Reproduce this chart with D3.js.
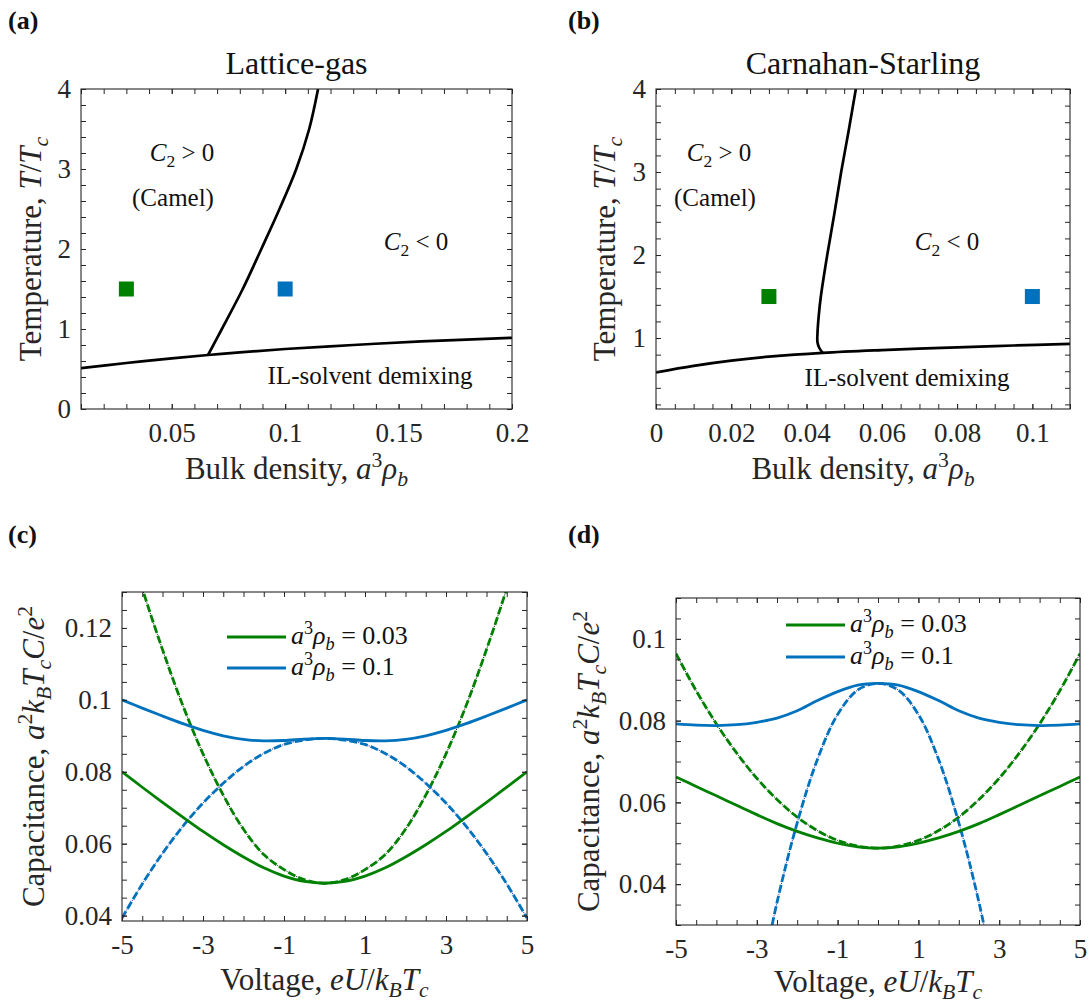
<!DOCTYPE html>
<html>
<head>
<meta charset="utf-8">
<script src="https://cdn.jsdelivr.net/npm/d3@7"></script>
<style>
  html, body { margin: 0; padding: 0; background: #fff; }
  svg { display: block; }
</style>
</head>
<body>
<script>
// ---------------- data ----------------
const panelTags = ["(a)", "(b)", "(c)", "(d)"];
const phaseTitles = ["Lattice-gas", "Carnahan-Starling"];

// state points marked on the phase diagrams
const markerRho = [0.03, 0.1];
const markerT = [1.5, 1.5];
const seriesColors = ["#008000", "#0072BD"];

// lattice-gas: IL-solvent demixing line and C2 = 0 line
const lgDemixRho = [0.01, 0.03, 0.05, 0.066, 0.08, 0.1, 0.13, 0.16, 0.2];
const lgDemixT   = [0.51, 0.575, 0.632, 0.675, 0.708, 0.75, 0.80, 0.845, 0.89];
const lgC2Rho = [0.066, 0.0721, 0.0813, 0.0895, 0.0975, 0.1049, 0.1106, 0.1145];
const lgC2T   = [0.675, 1.0, 1.5, 2.0, 2.5, 3.0, 3.5, 4.0];

// Carnahan-Starling: demixing line and C2 = 0 line
const csDemixRho = [0, 0.01, 0.02, 0.03, 0.0443, 0.06, 0.08, 0.095, 0.11];
const csDemixT   = [0.586, 0.665, 0.728, 0.775, 0.822, 0.855, 0.888, 0.91, 0.93];
const csC2Rho = [0.0443, 0.0434, 0.0429, 0.0429, 0.0432, 0.0438, 0.0455, 0.0474, 0.0492, 0.0512, 0.0531];
const csC2T   = [0.822, 0.88, 0.95, 1.05, 1.25, 1.5, 2.0, 2.5, 3.0, 3.5, 4.0];

// voltage grid for the capacitance curves
const voltage = [-5, -4.5, -4, -3.5, -3, -2.5, -2, -1.5, -1, -0.5, 0, 0.5, 1, 1.5, 2, 2.5, 3, 3.5, 4, 4.5, 5];

// lattice-gas capacitance (full and small-voltage expansion)
const lgCapLow   = [0.0800, 0.0757, 0.0715, 0.0674, 0.0634, 0.0597, 0.0563, 0.0533, 0.0510, 0.0495, 0.0490, 0.0495, 0.0510, 0.0533, 0.0563, 0.0597, 0.0634, 0.0674, 0.0715, 0.0757, 0.0800];
const lgCapHigh  = [0.1000, 0.0977, 0.0955, 0.0934, 0.0915, 0.0900, 0.0890, 0.0886, 0.0887, 0.0891, 0.0893, 0.0891, 0.0887, 0.0886, 0.0890, 0.0900, 0.0915, 0.0934, 0.0955, 0.0977, 0.1000];
const lgApproxLow  = [0.150, 0.131, 0.114, 0.0985, 0.085, 0.0735, 0.064, 0.057, 0.0528, 0.0500, 0.0490, 0.0500, 0.0528, 0.057, 0.064, 0.0735, 0.085, 0.0985, 0.114, 0.131, 0.150];
const lgApproxHigh = [0.0393, 0.0488, 0.0573, 0.0648, 0.0713, 0.0768, 0.0815, 0.0851, 0.0876, 0.0888, 0.0893, 0.0888, 0.0876, 0.0851, 0.0815, 0.0768, 0.0713, 0.0648, 0.0573, 0.0488, 0.0393];

// Carnahan-Starling capacitance
const csCapLow   = [0.0662, 0.0639, 0.0616, 0.0593, 0.0570, 0.0548, 0.0529, 0.0513, 0.0500, 0.0491, 0.0488, 0.0491, 0.0500, 0.0513, 0.0529, 0.0548, 0.0570, 0.0593, 0.0616, 0.0639, 0.0662];
const csCapHigh  = [0.0792, 0.0789, 0.0788, 0.0790, 0.0796, 0.0806, 0.0824, 0.0849, 0.0871, 0.0887, 0.0891, 0.0887, 0.0871, 0.0849, 0.0824, 0.0806, 0.0796, 0.0790, 0.0788, 0.0789, 0.0792];
const csApproxLow  = [0.0964, 0.0873, 0.0792, 0.0721, 0.0659, 0.0607, 0.0564, 0.0531, 0.0507, 0.0493, 0.0488, 0.0493, 0.0507, 0.0531, 0.0564, 0.0607, 0.0659, 0.0721, 0.0792, 0.0873, 0.0964];
const csApproxHigh = [null, null, null, null, 0.0115, 0.0355, 0.0550, 0.0705, 0.0815, 0.0875, 0.0891, 0.0875, 0.0815, 0.0705, 0.0550, 0.0355, 0.0115, null, null, null, null];

const legendLabels = ["0.03", "0.1"];

// tick values and labels
const lgXTicks = [0.05, 0.1, 0.15, 0.2];
const lgXLabels = ["0.05", "0.1", "0.15", "0.2"];
const csXTicks = [0, 0.02, 0.04, 0.06, 0.08, 0.1];
const csXLabels = ["0", "0.02", "0.04", "0.06", "0.08", "0.1"];
const tTicksA = [0, 1, 2, 3, 4];
const tTicksB = [1, 2, 3, 4];
const vTicks = [-5, -3, -1, 1, 3, 5];
const vLabels = ["-5", "-3", "-1", "1", "3", "5"];
const capTicksC = [0.04, 0.06, 0.08, 0.1, 0.12];
const capLabelsC = ["0.04", "0.06", "0.08", "0.1", "0.12"];
const capTicksD = [0.04, 0.06, 0.08, 0.1];
const capLabelsD = ["0.04", "0.06", "0.08", "0.1"];

// ---------------- drawing ----------------
const W = 1091, H = 1007;
const SERIF = "'Liberation Serif', 'Times New Roman', serif";
const AXIS_COLOR = "#262626";
const TICK_FS = 27, LABEL_FS = 31, NOTE_FS = 25, LEGEND_FS = 26;

const svg = d3.select("body").append("svg")
  .attr("width", W).attr("height", H)
  .attr("viewBox", `0 0 ${W} ${H}`)
  .style("font-family", SERIF);

const range = (a, b, s) => d3.range(Math.round((b - a) / s) + 1).map(i => +(a + i * s).toFixed(6));

// text with italic / subscript / superscript runs
function rich(text, parts, size) {
  let shift = 0;
  parts.forEach(p => {
    const ts = text.append("tspan").text(p.t);
    const target = p.sub ? size * 0.22 : p.sup ? -size * 0.4 : 0;
    if (target !== shift) { ts.attr("dy", target - shift); shift = target; }
    if (p.sub || p.sup) ts.attr("font-size", size * 0.7);
    if (p.i) ts.attr("font-style", "italic");
  });
  return text;
}

let clipId = 0;
function makePanel(cfg) {
  const x = d3.scaleLinear().domain(cfg.xDomain).range([cfg.x0, cfg.x1]);
  const y = d3.scaleLinear().domain(cfg.yDomain).range([cfg.y1, cfg.y0]);
  const g = svg.append("g");

  const id = "clip" + (clipId++);
  svg.append("clipPath").attr("id", id)
    .append("rect").attr("x", cfg.x0).attr("y", cfg.y0)
    .attr("width", cfg.x1 - cfg.x0).attr("height", cfg.y1 - cfg.y0);
  const plot = g.append("g").attr("clip-path", `url(#${id})`);

  const style = sel => {
    sel.select(".domain").remove();
    sel.selectAll("line").attr("stroke", AXIS_COLOR).attr("stroke-width", 1);
    sel.attr("font-family", SERIF).attr("font-size", TICK_FS);
    sel.selectAll("text").attr("fill", AXIS_COLOR);
  };
  const T = 5;
  // labelled major ticks
  g.append("g").attr("transform", `translate(0,${cfg.y1})`)
    .call(d3.axisBottom(x).tickValues(cfg.xTicks).tickFormat((d, i) => cfg.xLabels[i])
      .tickSizeInner(-T).tickSizeOuter(0).tickPadding(14)).call(style);
  g.append("g").attr("transform", `translate(${cfg.x0},0)`)
    .call(d3.axisLeft(y).tickValues(cfg.yTicks).tickFormat((d, i) => cfg.yLabels[i])
      .tickSizeInner(-T).tickSizeOuter(0).tickPadding(10)).call(style);
  // minor ticks on all four sides, majors on top / right
  const blank = () => "";
  [[d3.axisBottom, cfg.y1, cfg.xMinor], [d3.axisTop, cfg.y0, cfg.xMinor.concat(cfg.xTicks)]].forEach(([ax, pos, vals]) => {
    g.append("g").attr("transform", `translate(0,${pos})`)
      .call(ax(x).tickValues(vals).tickFormat(blank).tickSizeInner(-T).tickSizeOuter(0)).call(style);
  });
  [[d3.axisLeft, cfg.x0, cfg.yMinor], [d3.axisRight, cfg.x1, cfg.yMinor.concat(cfg.yTicks)]].forEach(([ax, pos, vals]) => {
    g.append("g").attr("transform", `translate(${pos},0)`)
      .call(ax(y).tickValues(vals).tickFormat(blank).tickSizeInner(-T).tickSizeOuter(0)).call(style);
  });
  g.append("rect").attr("x", cfg.x0).attr("y", cfg.y0)
    .attr("width", cfg.x1 - cfg.x0).attr("height", cfg.y1 - cfg.y0)
    .attr("fill", "none").attr("stroke", AXIS_COLOR).attr("stroke-width", 1.1);

  // axis titles
  rich(g.append("text").attr("x", (cfg.x0 + cfg.x1) / 2).attr("y", cfg.y1 + cfg.xTitleGap)
    .attr("text-anchor", "middle").attr("font-size", LABEL_FS).attr("fill", AXIS_COLOR), cfg.xTitle, LABEL_FS);
  rich(g.append("text").attr("transform", `translate(${cfg.yTitleX},${(cfg.y0 + cfg.y1) / 2}) rotate(-90)`)
    .attr("text-anchor", "middle").attr("font-size", LABEL_FS).attr("fill", AXIS_COLOR), cfg.yTitle, LABEL_FS);

  return { x, y, g, plot };
}

const tagX = [8, 568, 8, 568], tagY = [29, 29, 543, 543];
panelTags.forEach((t, i) => {
  svg.append("text").attr("x", tagX[i]).attr("y", tagY[i])
    .attr("font-size", 26).attr("font-weight", "bold").attr("fill", "#111").text(t);
});

const rhoTitle = [{ t: "Bulk density, " }, { t: "a", i: 1 }, { t: "3", sup: 1 }, { t: "ρ", i: 1 }, { t: "b", i: 1, sub: 1 }];
const tempTitle = [{ t: "Temperature, " }, { t: "T", i: 1 }, { t: "/" }, { t: "T", i: 1 }, { t: "c", i: 1, sub: 1 }];
const voltTitle = [{ t: "Voltage, " }, { t: "eU", i: 1 }, { t: "/" }, { t: "k", i: 1 }, { t: "B", i: 1, sub: 1 }, { t: "T", i: 1 }, { t: "c", i: 1, sub: 1 }];
const capTitle = [{ t: "Capacitance, " }, { t: "a", i: 1 }, { t: "2", sup: 1 }, { t: "k", i: 1 }, { t: "B", i: 1, sub: 1 },
  { t: "T", i: 1 }, { t: "c", i: 1, sub: 1 }, { t: "C", i: 1 }, { t: "/" }, { t: "e", i: 1 }, { t: "2", sup: 1 }];

// ---- phase diagrams ----
function phasePanel(cfg, demixRho, demixT, c2Rho, c2T, notes, title) {
  const p = makePanel(cfg);
  p.g.append("text").attr("x", (cfg.x0 + cfg.x1) / 2).attr("y", 74)
    .attr("text-anchor", "middle").attr("font-size", 32).attr("fill", "#111").text(title);
  const line = d3.line().x(d => p.x(d[0])).y(d => p.y(d[1])).curve(d3.curveCatmullRom.alpha(0.5));
  p.plot.append("path").datum(d3.zip(demixRho, demixT)).attr("d", line)
    .attr("fill", "none").attr("stroke", "#000").attr("stroke-width", 2.7);
  p.plot.append("path").datum(d3.zip(c2Rho, c2T)).attr("d", line)
    .attr("fill", "none").attr("stroke", "#000").attr("stroke-width", 2.7);
  const S = 15;
  p.plot.selectAll("rect.state").data(d3.zip(markerRho, markerT, seriesColors)).join("rect")
    .attr("class", "state")
    .attr("x", d => p.x(d[0]) - S / 2).attr("y", d => p.y(d[1]) - S / 2)
    .attr("width", S).attr("height", S).attr("fill", d => d[2]);
  notes.forEach(n => {
    rich(p.g.append("text").attr("x", n.x).attr("y", n.y).attr("text-anchor", "middle")
      .attr("font-size", NOTE_FS).attr("fill", "#111"), n.parts, NOTE_FS);
  });
}

const c2pos = [{ t: "C", i: 1 }, { t: "2", sub: 1 }, { t: " > 0" }];
const c2neg = [{ t: "C", i: 1 }, { t: "2", sub: 1 }, { t: " < 0" }];
const camel = [{ t: "(Camel)" }];
const demix = [{ t: "IL-solvent demixing" }];

phasePanel({
  x0: 81, x1: 512, y0: 89, y1: 409, xDomain: [0.01, 0.2], yDomain: [0, 4],
  xTicks: lgXTicks, xLabels: lgXLabels, xMinor: range(0.01, 0.2, 0.01),
  yTicks: tTicksA, yLabels: tTicksA.map(String), yMinor: range(0, 4, 0.2),
  xTitle: rhoTitle, yTitle: tempTitle, yTitleX: 41, xTitleGap: 70
}, lgDemixRho, lgDemixT, lgC2Rho, lgC2T, [
  { x: 182, y: 161, parts: c2pos }, { x: 173, y: 206, parts: camel },
  { x: 416, y: 250, parts: c2neg }, { x: 370, y: 384, parts: demix }
], phaseTitles[0]);

phasePanel({
  x0: 656, x1: 1070, y0: 89, y1: 409, xDomain: [0, 0.11], yDomain: [0.145, 4],
  xTicks: csXTicks, xLabels: csXLabels, xMinor: range(0, 0.11, 0.005),
  yTicks: tTicksB, yLabels: tTicksB.map(String), yMinor: range(0.2, 4, 0.2),
  xTitle: rhoTitle, yTitle: tempTitle, yTitleX: 615, xTitleGap: 70
}, csDemixRho, csDemixT, csC2Rho, csC2T, [
  { x: 719, y: 161, parts: c2pos }, { x: 715, y: 206, parts: camel },
  { x: 947, y: 250, parts: c2neg }, { x: 907, y: 386, parts: demix }
], phaseTitles[1]);

// ---- capacitance curves ----
function capPanel(cfg, low, high, apLow, apHigh, legendX, legendY) {
  const p = makePanel(cfg);
  const line = d3.line().defined(d => d[1] != null)
    .x(d => p.x(d[0])).y(d => p.y(d[1])).curve(d3.curveCatmullRom.alpha(0.5));
  const under = ["#1a1a1a", "#3b2bd6"];
  // small-voltage expansions: coloured dashes over a fine dark dotted trace
  [apLow, apHigh].forEach((vals, k) => {
    const data = d3.zip(voltage, vals);
    p.plot.append("path").datum(data).attr("d", line).attr("fill", "none")
      .attr("stroke", under[k]).attr("stroke-width", 1).attr("stroke-dasharray", "1.2,9.8")
      .attr("stroke-dashoffset", -8.9);
    p.plot.append("path").datum(data).attr("d", line).attr("fill", "none")
      .attr("stroke", seriesColors[k]).attr("stroke-width", 2.8).attr("stroke-dasharray", "8,3");
  });
  [low, high].forEach((vals, k) => {
    p.plot.append("path").datum(d3.zip(voltage, vals)).attr("d", line).attr("fill", "none")
      .attr("stroke", seriesColors[k]).attr("stroke-width", 2.8);
  });
  // legend
  legendLabels.forEach((lab, k) => {
    const ly = legendY[k];
    p.g.append("line").attr("x1", legendX).attr("x2", legendX + 59).attr("y1", ly).attr("y2", ly)
      .attr("stroke", seriesColors[k]).attr("stroke-width", 2.8);
    rich(p.g.append("text").attr("x", legendX + 64).attr("y", ly + 7)
      .attr("font-size", LEGEND_FS).attr("fill", "#111"),
      [{ t: "a", i: 1 }, { t: "3", sup: 1 }, { t: "ρ", i: 1 }, { t: "b", i: 1, sub: 1 }, { t: " = " + lab }], LEGEND_FS);
  });
}

capPanel({
  x0: 122, x1: 527, y0: 592, y1: 921, xDomain: [-5, 5], yDomain: [0.0385, 0.13],
  xTicks: vTicks, xLabels: vLabels, xMinor: range(-5, 5, 0.5),
  yTicks: capTicksC, yLabels: capLabelsC, yMinor: range(0.04, 0.13, 0.005),
  xTitle: voltTitle, yTitle: capTitle, yTitleX: 44, xTitleGap: 69
}, lgCapLow, lgCapHigh, lgApproxLow, lgApproxHigh, 227, [637, 668]);

capPanel({
  x0: 676, x1: 1080, y0: 598, y1: 925, xDomain: [-5, 5], yDomain: [0.03, 0.11],
  xTicks: vTicks, xLabels: vLabels, xMinor: range(-5, 5, 0.5),
  yTicks: capTicksD, yLabels: capLabelsD, yMinor: range(0.03, 0.11, 0.005),
  xTitle: voltTitle, yTitle: capTitle, yTitleX: 599, xTitleGap: 67
}, csCapLow, csCapHigh, csApproxLow, csApproxHigh, 786, [625, 657]);
</script>
</body>
</html>
